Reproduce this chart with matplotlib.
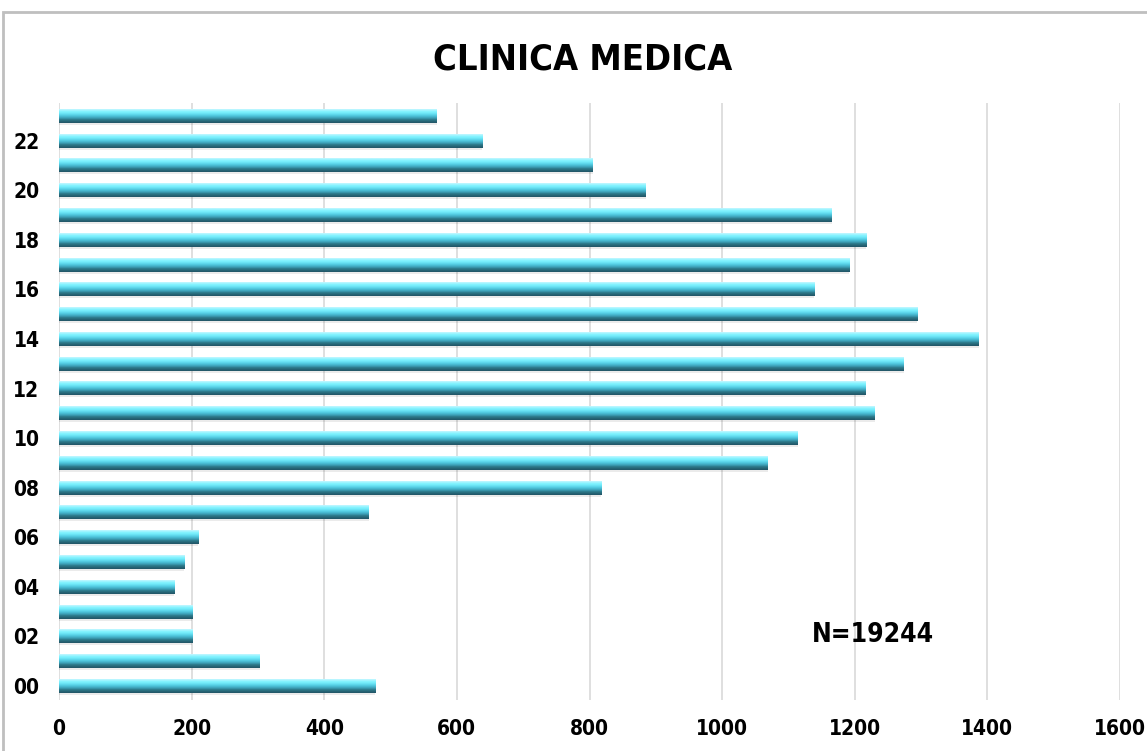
import matplotlib.pyplot as plt
import matplotlib.colors as mcolors
import numpy as np
from matplotlib.patches import Rectangle

hours = [f'{h:02d}' for h in range(24)]
counts = [477, 303, 201, 201, 174, 189, 210, 467, 818, 1069, 1114, 1230,
          1216, 1274, 1387, 1294, 1139, 1192, 1217, 1165, 885, 805, 638, 570]
x_ticks = [0, 200, 400, 600, 800, 1000, 1200, 1400, 1600]
title = 'CLINICA MEDICA'
note = 'N=19244'

FONT = ['DejaVu Sans']
STRETCH = 'condensed'

# vertical shading of each bar, top edge to bottom edge
shade = ['#b8f6ff', '#8af4ff', '#78eefc', '#66e0f2', '#55cde3', '#47b6cd',
         '#3b9db3', '#2f7d8f', '#286a7a', '#23596a']
shade_rgb = np.array([mcolors.to_rgb(c) for c in shade])[:, None, :]


def main():
    fig = plt.figure(figsize=(11.47, 7.51), dpi=100)
    fig.patches.append(Rectangle((3 / 1147, -0.05), 1.1, 0.05 + (1 - 12 / 751),
                                 transform=fig.transFigure, fill=False,
                                 edgecolor='#bfbfbf', linewidth=2))
    ax = fig.add_axes([59 / 1147, 1 - 700 / 751, (1120 - 59) / 1147, 597 / 751])

    h = 0.56
    y = np.arange(len(counts))
    # soft shadow under each bar
    ax.barh(y - 0.08, counts, height=h, color='#000000', alpha=0.08, zorder=2)
    for i, v in enumerate(counts):
        ax.imshow(shade_rgb, extent=(0, v, i - h / 2, i + h / 2), aspect='auto',
                  interpolation='bilinear', zorder=3)

    ax.set_xlim(0, 1600)
    ax.set_ylim(-0.565, 23.52)
    ax.set_xticks(x_ticks)
    ax.set_xticklabels([str(t) for t in x_ticks])
    ax.set_yticks(y[::2])
    ax.set_yticklabels(hours[::2])
    for lbl in ax.get_xticklabels() + ax.get_yticklabels():
        lbl.set_family(FONT)
        lbl.set_stretch(STRETCH)
        lbl.set_fontweight('bold')
        lbl.set_fontsize(15)
    ax.tick_params(axis='both', length=0)
    ax.tick_params(axis='x', pad=14)
    ax.tick_params(axis='y', pad=14)
    ax.grid(axis='x', color='#d9d9d9', linewidth=1.2, zorder=0)
    ax.set_axisbelow(True)
    for s in ax.spines.values():
        s.set_visible(False)

    fig.text(0.508, 1 - 60 / 751, title, ha='center', va='center',
             family=FONT, stretch=STRETCH, fontweight='bold', fontsize=26)
    ax.text(1228, 2.05, note, ha='center', va='center', family=FONT,
            stretch=STRETCH, fontweight='bold', fontsize=19)

    fig.savefig('out.png', dpi=100)


if __name__ == '__main__':
    main()
